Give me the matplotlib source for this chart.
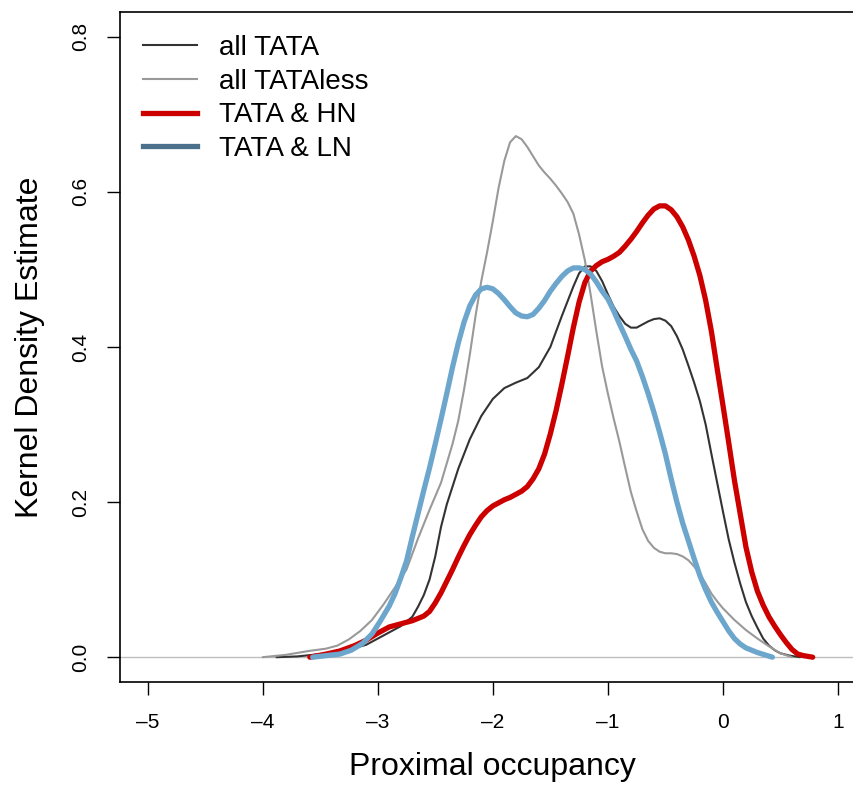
import matplotlib
matplotlib.use("Agg")
import matplotlib.pyplot as plt
from matplotlib.lines import Line2D

plt.rcParams['font.family'] = ['Liberation Sans', 'DejaVu Sans']

# density curves (x = proximal occupancy, y = density)
tata_x = [-3.88, -3.7, -3.5, -3.3, -3.1, -2.95, -2.8, -2.7, -2.65, -2.6, -2.55, -2.5,
          -2.45, -2.4, -2.35, -2.3, -2.2, -2.1, -2.0, -1.9, -1.8, -1.7, -1.6, -1.5,
          -1.4, -1.3, -1.25, -1.2, -1.15, -1.1, -1.05, -1.0, -0.95, -0.9, -0.85, -0.8,
          -0.75, -0.7, -0.65, -0.6, -0.55, -0.5, -0.45, -0.4, -0.35, -0.3, -0.25, -0.2,
          -0.15, -0.1, -0.05, 0.0, 0.05, 0.1, 0.15, 0.2, 0.25, 0.3, 0.35, 0.4,
          0.45, 0.5, 0.58, 0.67]
tata_y = [0.000, 0.001, 0.004, 0.008, 0.016, 0.028, 0.040, 0.052, 0.065, 0.080, 0.100, 0.130,
          0.168, 0.197, 0.220, 0.243, 0.281, 0.311, 0.333, 0.347, 0.354, 0.360, 0.374, 0.400,
          0.440, 0.478, 0.495, 0.504, 0.504, 0.498, 0.485, 0.468, 0.452, 0.440, 0.430, 0.425,
          0.425, 0.429, 0.433, 0.436, 0.437, 0.434, 0.427, 0.414, 0.397, 0.376, 0.354, 0.330,
          0.300, 0.262, 0.225, 0.188, 0.152, 0.122, 0.095, 0.071, 0.053, 0.038, 0.024, 0.015,
          0.009, 0.005, 0.002, 0.000]

tataless_x = [-4.0, -3.8, -3.6, -3.45, -3.35, -3.25, -3.15, -3.05, -2.95, -2.85, -2.75,
              -2.65, -2.55, -2.45, -2.4, -2.35, -2.3, -2.25, -2.2, -2.15, -2.1, -2.05,
              -2.0, -1.95, -1.9, -1.85, -1.8, -1.75, -1.7, -1.65, -1.6, -1.55, -1.5,
              -1.45, -1.4, -1.35, -1.3, -1.25, -1.2, -1.15, -1.1, -1.05, -1.0, -0.95,
              -0.9, -0.85, -0.8, -0.75, -0.7, -0.65, -0.6, -0.55, -0.5, -0.45, -0.4,
              -0.35, -0.3, -0.25, -0.2, -0.15, -0.1, -0.05, 0.0, 0.1, 0.2, 0.3,
              0.4, 0.5, 0.6]
tataless_y = [0.000, 0.003, 0.008, 0.011, 0.015, 0.023, 0.034, 0.048, 0.068, 0.090, 0.113,
              0.153, 0.190, 0.225, 0.250, 0.275, 0.305, 0.345, 0.390, 0.440, 0.485, 0.522,
              0.562, 0.605, 0.640, 0.664, 0.672, 0.668, 0.658, 0.646, 0.634, 0.625, 0.617,
              0.608, 0.598, 0.587, 0.572, 0.545, 0.512, 0.468, 0.420, 0.375, 0.340, 0.308,
              0.278, 0.245, 0.213, 0.188, 0.165, 0.150, 0.141, 0.136, 0.134, 0.134, 0.133,
              0.130, 0.125, 0.117, 0.107, 0.095, 0.082, 0.072, 0.063, 0.048, 0.035, 0.024,
              0.014, 0.005, 0.000]

hn_x = [-3.59, -3.45, -3.33, -3.2, -3.1, -3.0, -2.9, -2.8, -2.7, -2.6, -2.55, -2.5,
        -2.45, -2.4, -2.35, -2.3, -2.25, -2.2, -2.15, -2.1, -2.05, -2.0, -1.95, -1.9,
        -1.85, -1.8, -1.75, -1.7, -1.65, -1.6, -1.55, -1.5, -1.45, -1.4, -1.35, -1.3,
        -1.25, -1.2, -1.15, -1.1, -1.05, -1.0, -0.95, -0.9, -0.85, -0.8, -0.75, -0.7,
        -0.65, -0.6, -0.55, -0.5, -0.45, -0.4, -0.35, -0.3, -0.25, -0.2, -0.15, -0.1,
        -0.05, 0.0, 0.05, 0.1, 0.15, 0.2, 0.25, 0.3, 0.35, 0.4, 0.45, 0.5,
        0.55, 0.6, 0.65, 0.7, 0.78]
hn_y = [0.000, 0.004, 0.008, 0.015, 0.022, 0.031, 0.039, 0.043, 0.047, 0.053, 0.059, 0.070,
        0.083, 0.098, 0.113, 0.129, 0.144, 0.158, 0.170, 0.181, 0.189, 0.195, 0.199, 0.203,
        0.206, 0.210, 0.214, 0.220, 0.230, 0.243, 0.262, 0.288, 0.318, 0.352, 0.388, 0.425,
        0.458, 0.483, 0.498, 0.505, 0.510, 0.513, 0.517, 0.522, 0.530, 0.539, 0.549, 0.560,
        0.570, 0.578, 0.582, 0.582, 0.577, 0.568, 0.555, 0.538, 0.517, 0.492, 0.460, 0.420,
        0.372, 0.325, 0.277, 0.228, 0.185, 0.142, 0.110, 0.085, 0.067, 0.052, 0.040, 0.029,
        0.019, 0.010, 0.004, 0.002, 0.000]

ln_x = [-3.565, -3.45, -3.33, -3.23, -3.13, -3.05, -2.98, -2.9, -2.85, -2.8, -2.75, -2.7,
        -2.65, -2.6, -2.55, -2.5, -2.45, -2.4, -2.35, -2.3, -2.25, -2.2, -2.15, -2.1,
        -2.05, -2.0, -1.95, -1.9, -1.85, -1.8, -1.75, -1.7, -1.65, -1.6, -1.55, -1.5,
        -1.45, -1.4, -1.35, -1.3, -1.25, -1.2, -1.15, -1.1, -1.05, -1.0, -0.95, -0.9,
        -0.85, -0.8, -0.75, -0.7, -0.65, -0.6, -0.55, -0.5, -0.45, -0.4, -0.35, -0.3,
        -0.25, -0.2, -0.15, -0.1, -0.05, 0.0, 0.05, 0.1, 0.15, 0.2, 0.3, 0.43]
ln_y = [0.000, 0.002, 0.004, 0.009, 0.018, 0.030, 0.046, 0.066, 0.082, 0.102, 0.124, 0.155,
        0.185, 0.215, 0.244, 0.275, 0.307, 0.340, 0.374, 0.405, 0.432, 0.453, 0.467, 0.475,
        0.477, 0.475, 0.469, 0.461, 0.452, 0.444, 0.440, 0.439, 0.442, 0.450, 0.460, 0.472,
        0.482, 0.491, 0.498, 0.502, 0.502, 0.500, 0.494, 0.484, 0.472, 0.462, 0.447, 0.430,
        0.414, 0.397, 0.382, 0.362, 0.340, 0.316, 0.290, 0.262, 0.230, 0.200, 0.173, 0.150,
        0.127, 0.105, 0.087, 0.071, 0.058, 0.046, 0.034, 0.024, 0.017, 0.012, 0.006, 0.000]

labels = ["all TATA", "all TATAless", "TATA & HN", "TATA & LN"]
x_ticks = [-5, -4, -3, -2, -1, 0, 1]
y_ticks = [0.0, 0.2, 0.4, 0.6, 0.8]

fig = plt.figure(figsize=(8.54, 7.85), dpi=100)
ax = fig.add_axes([0.1405, 0.1312, 0.8731, 0.8535])

ax.axhline(0, color="#BEBEBE", lw=1.0, zorder=1)
ax.plot(tata_x, tata_y, color="#333333", lw=1.5, solid_capstyle="round", solid_joinstyle="round")
ax.plot(tataless_x, tataless_y, color="#999999", lw=1.5, solid_capstyle="round", solid_joinstyle="round")
ax.plot(hn_x, hn_y, color="#CD0000", lw=3.8, solid_capstyle="round", solid_joinstyle="round")
ax.plot(ln_x, ln_y, color="#6CA6CD", lw=3.8, solid_capstyle="round", solid_joinstyle="round")

ax.set_xlim(-5.24, 1.24)
ax.set_ylim(-0.032, 0.832)
ax.set_xticks(x_ticks)
ax.set_xticklabels([f"{t:g}".replace("-", "\u2013") for t in x_ticks])
ax.set_yticks(y_ticks)
ax.set_yticklabels([f"{t:.1f}" for t in y_ticks], rotation=90, va="center")
ax.tick_params(direction="out", length=9.4, width=1.0, labelsize=15)
ax.tick_params(axis="x", pad=13)
ax.tick_params(axis="y", pad=12)
for s in ax.spines.values():
    s.set_linewidth(1.2)

ax.set_xlabel("Proximal occupancy", fontsize=23)
ax.set_ylabel("Kernel Density Estimate", fontsize=23)
ax.xaxis.set_label_coords(0.5, -0.104)
ax.yaxis.set_label_coords(-0.121, 0.5)
ax.yaxis.label.set_va("center")

handles = [Line2D([], [], color="#333333", lw=1.5),
           Line2D([], [], color="#999999", lw=1.5),
           Line2D([], [], color="#CD0000", lw=3.8),
           Line2D([], [], color="#4A708B", lw=3.8)]
ax.legend(handles, labels, loc="upper left", bbox_to_anchor=(0.031, 0.966),
          frameon=False, fontsize=20, handlelength=1.95, handletextpad=0.8,
          labelspacing=0.28, borderpad=0, borderaxespad=0)

plt.savefig("out.png", dpi=100)
